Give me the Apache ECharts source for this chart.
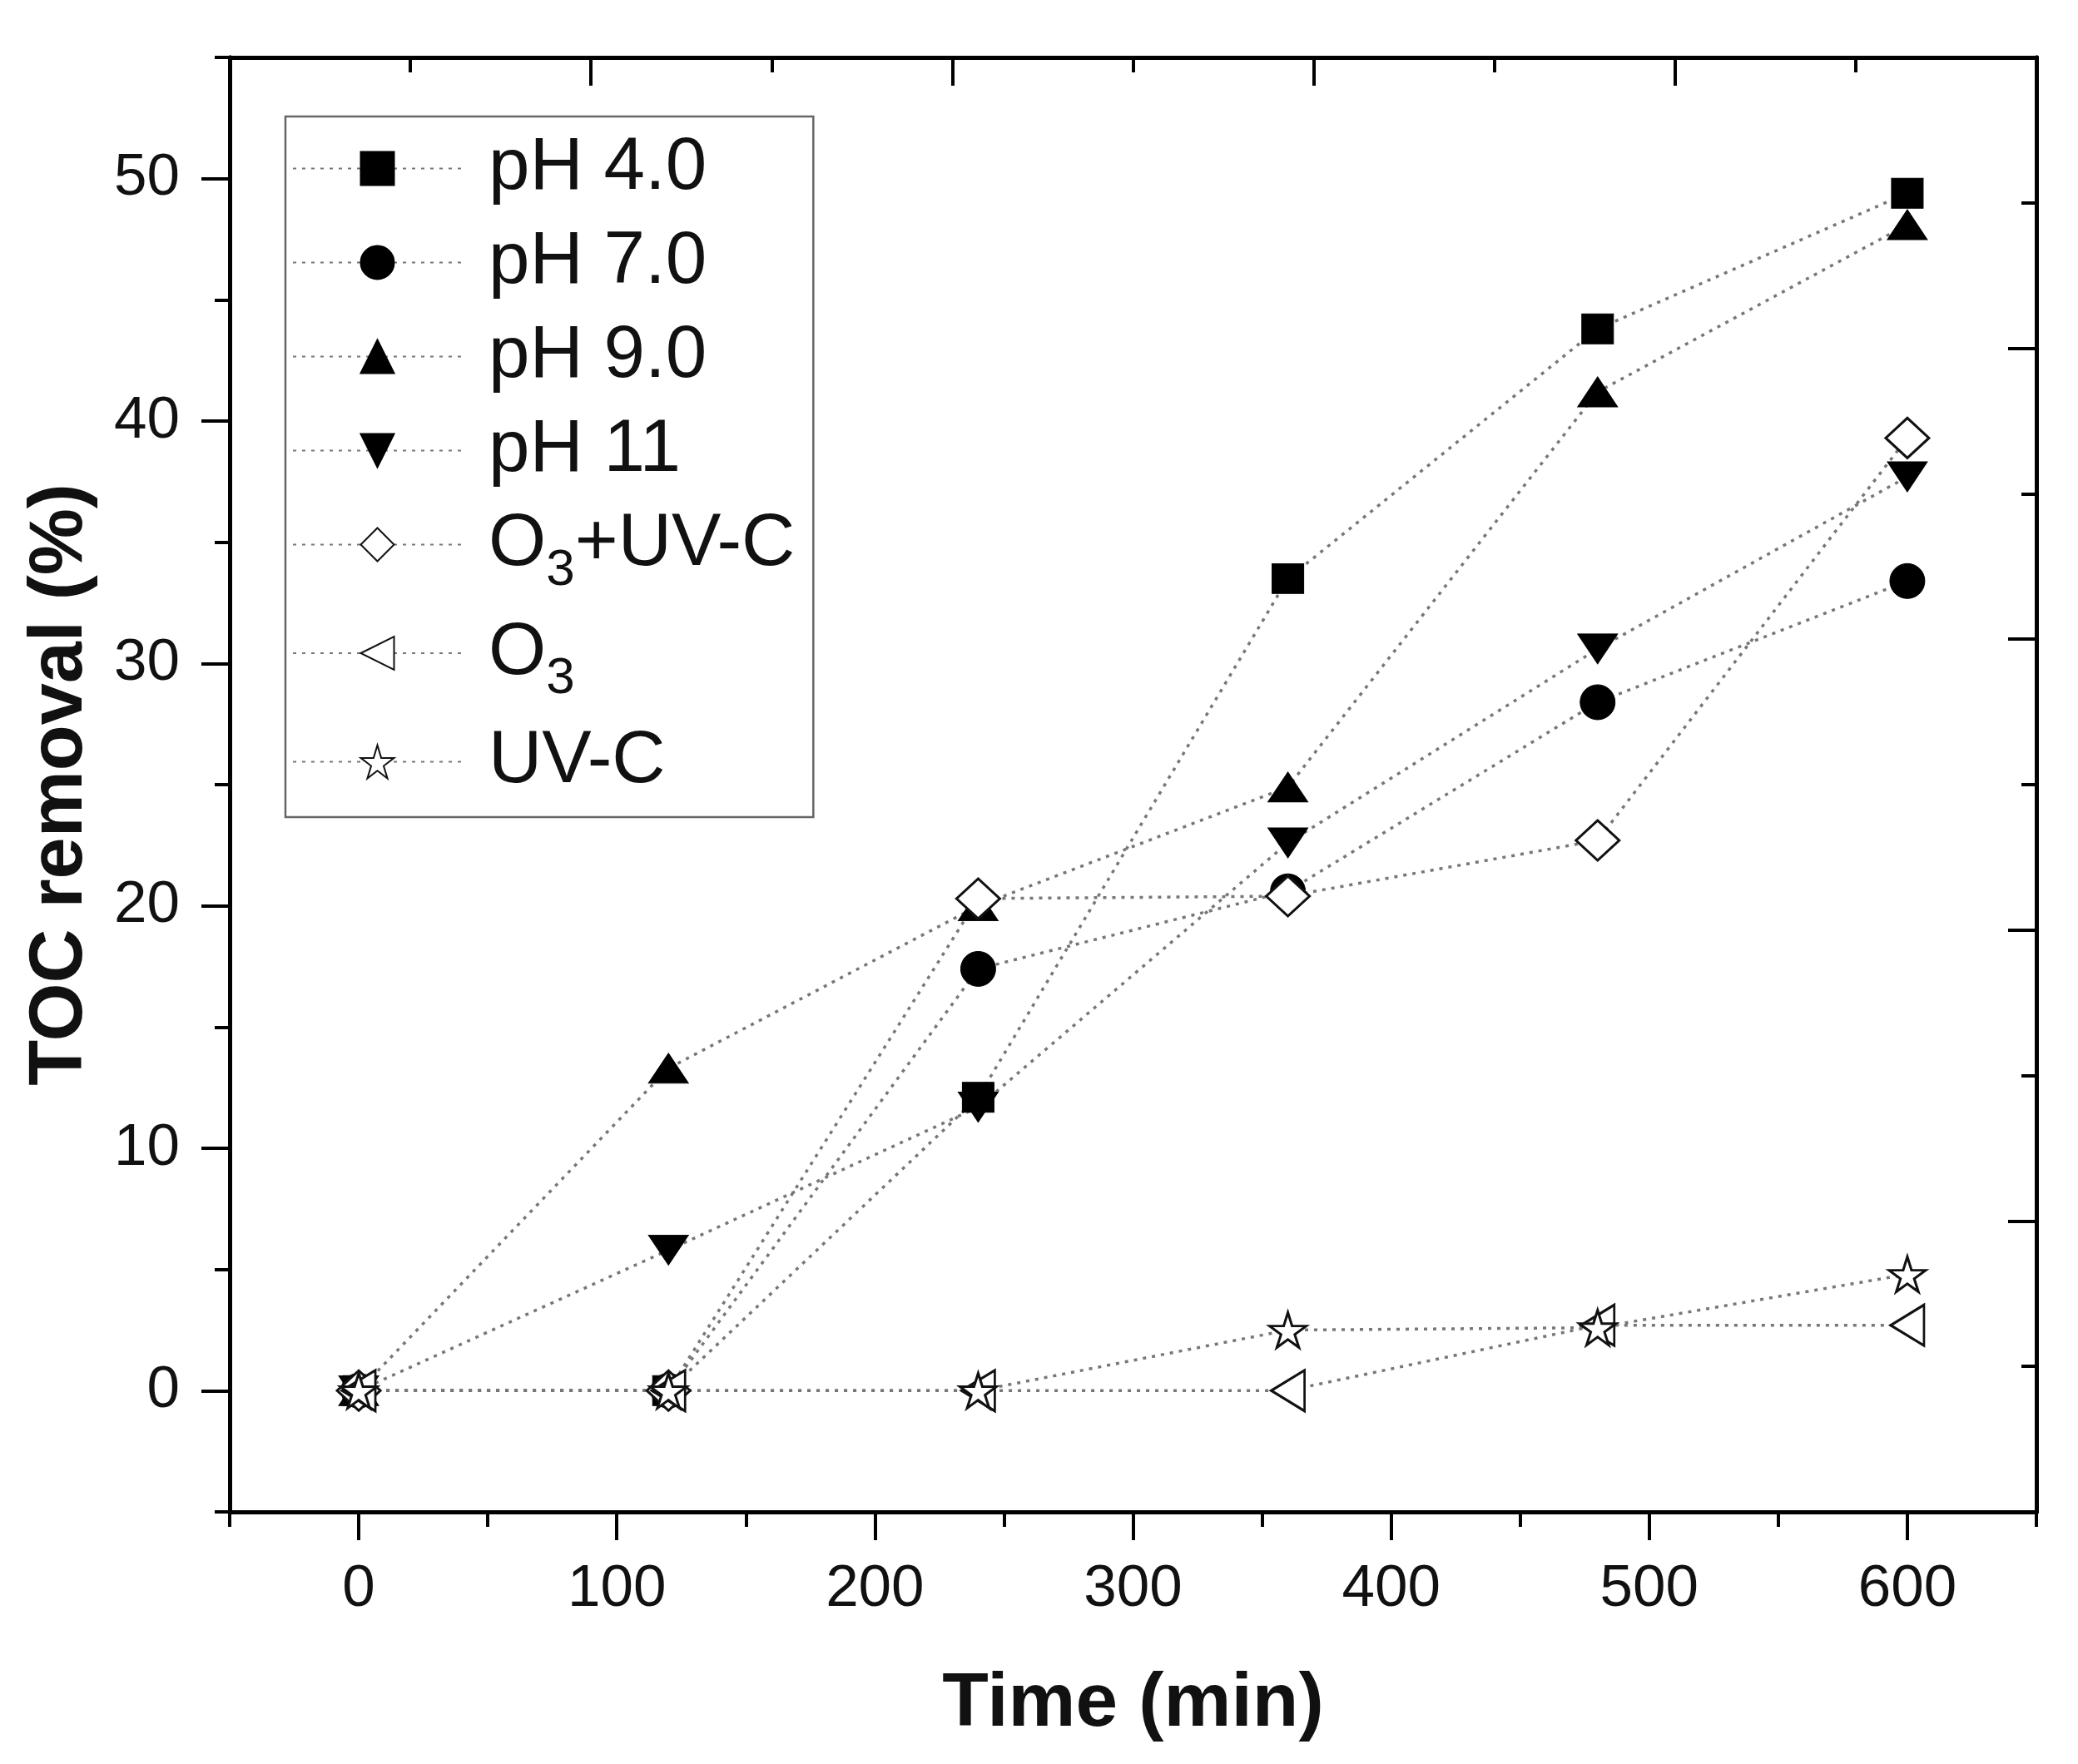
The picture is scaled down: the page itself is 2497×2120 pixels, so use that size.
<!DOCTYPE html>
<html>
<head>
<meta charset="utf-8">
<script src="https://cdn.jsdelivr.net/npm/echarts@6/dist/echarts.min.js"></script>
<style>
html, body { margin: 0; padding: 0; background: #fff; }
#chart-container { width: 2497px; height: 2120px; }
</style>
</head>
<body>
<div id="chart-container"></div>
<script>
var times = [0, 120, 240, 360, 480, 600];
var ph4 = [0, 0, 12.1, 33.5, 43.8, 49.4];
var ph7 = [0, 0, 17.4, 20.6, 28.4, 33.4];
var ph9 = [0, 13.3, 20.0, 24.9, 41.2, 48.1];
var ph11 = [0, 5.8, 11.7, 22.6, 30.6, 37.7];
var o3uvc = [0, 0, 20.3, 20.4, 22.7, 39.3];
var o3 = [0, 0, 0, 0, 2.7, 2.7];
var uvc = [0, 0, 0, 2.5, 2.6, 4.8];

var xMajorTicks = [0, 100, 200, 300, 400, 500, 600];
var xMinorTicks = [-50, 50, 150, 250, 350, 450, 550, 650];
var yMajorTicks = [0, 10, 20, 30, 40, 50];
var yMinorTicks = [-5, 5, 15, 25, 35, 45, 55];
// the mirrored top / right frame has its own spacing
var frameMajorTicks = [2, 4, 6, 8];
var frameMinorTicks = [1, 3, 5, 7, 9];

var font = "'Liberation Sans', Arial, sans-serif";
var starPath = 'path://M50,0 L61,35 L98,35 L68,57 L79,91 L50,70 L21,91 L32,57 L2,35 L39,35 Z';

var dom = document.getElementById('chart-container');
var myChart = echarts.init(dom, null, { renderer: 'canvas' });

function pairs(vals) {
    return times.map(function (t, i) { return [t, vals[i]]; });
}

var lineStyle = { color: '#777', width: 3.5, type: [4, 7] };
var filled = { color: '#000', borderColor: '#000', borderWidth: 1 };
var hollow = { color: '#fff', borderColor: '#111', borderWidth: 3 };

function makeSeries(name, vals, symbol, size, style, rotate) {
    return {
        name: name,
        type: 'line',
        data: pairs(vals),
        symbol: symbol,
        symbolSize: size,
        symbolRotate: rotate || 0,
        showAllSymbol: true,
        itemStyle: style,
        lineStyle: lineStyle,
        emphasis: { disabled: true }
    };
}

function frameAxis(position, min, max, ticks, len, inside, extra) {
    var ax = {
        type: 'value',
        position: position,
        min: min,
        max: max,
        axisLine: { show: true, onZero: false, lineStyle: { color: '#000', width: 5 } },
        axisTick: { show: true, inside: inside, length: len, customValues: ticks,
                    lineStyle: { color: '#000', width: 4 } },
        axisLabel: { show: false },
        splitLine: { show: false }
    };
    if (extra) {
        for (var k in extra) ax[k] = extra[k];
    }
    return ax;
}

var option = {
    animation: false,
    backgroundColor: '#fff',
    grid: { left: 276, right: 50, top: 69, bottom: 303, outerBoundsMode: 'none' },
    legend: {
        orient: 'vertical',
        left: 343,
        top: 140,
        padding: [18, 22, 22, 8],
        itemWidth: 203,
        itemHeight: 50,
        itemGap: 24,
        borderColor: '#666',
        borderWidth: 2.5,
        selectedMode: false,
        data: ['pH 4.0', 'pH 7.0', 'pH 9.0', 'pH 11', 'O3+UV-C', 'O3', 'UV-C'],
        formatter: function (name) { return name.replace('O3', 'O{s|3}'); },
        textStyle: {
            fontFamily: font,
            fontSize: 89,
            color: '#111',
            padding: [0, 0, 0, 27],
            rich: {
                s: { fontFamily: font, fontSize: 62, color: '#111', padding: [62, 0, 0, 0] }
            }
        }
    },
    xAxis: [
        frameAxis('bottom', -50, 650, xMajorTicks, 34, false, {
            name: 'Time (min)',
            nameLocation: 'middle',
            nameGap: 186,
            nameTextStyle: { fontFamily: font, fontSize: 91, fontWeight: 'bold', color: '#111' },
            axisLabel: { show: true, customValues: xMajorTicks, margin: 58,
                         fontFamily: font, fontSize: 71, color: '#111' }
        }),
        frameAxis('bottom', -50, 650, xMinorTicks, 18, false),
        frameAxis('top', 0, 10, frameMajorTicks, 34, true),
        frameAxis('top', 0, 10, frameMinorTicks, 18, true)
    ],
    yAxis: [
        frameAxis('left', -5, 55, yMajorTicks, 34, false, {
            name: 'TOC removal (%)',
            nameLocation: 'middle',
            nameGap: 158,
            nameTextStyle: { fontFamily: font, fontSize: 90, fontWeight: 'bold', color: '#111' },
            axisLabel: { show: true, customValues: yMajorTicks, margin: 60,
                         fontFamily: font, fontSize: 71, color: '#111' }
        }),
        frameAxis('left', -5, 55, yMinorTicks, 18, false),
        frameAxis('right', 0, 10, frameMajorTicks, 34, true),
        frameAxis('right', 0, 10, frameMinorTicks, 18, true)
    ],
    series: [
        makeSeries('pH 4.0', ph4, 'rect', [38, 36], filled),
        makeSeries('pH 7.0', ph7, 'circle', 42, filled),
        makeSeries('pH 9.0', ph9, 'triangle', [48, 36], filled),
        makeSeries('pH 11', ph11, 'triangle', [48, 36], filled, 180),
        makeSeries('O3+UV-C', o3uvc, 'diamond', [52, 48], hollow),
        makeSeries('O3', o3, 'triangle', [49, 40], hollow, 90),
        makeSeries('UV-C', uvc, starPath, [44, 42], hollow)
    ]
};

if (option && typeof option === 'object') {
    myChart.setOption(option);
}

window.addEventListener('resize', myChart.resize);
</script>
</body>
</html>
